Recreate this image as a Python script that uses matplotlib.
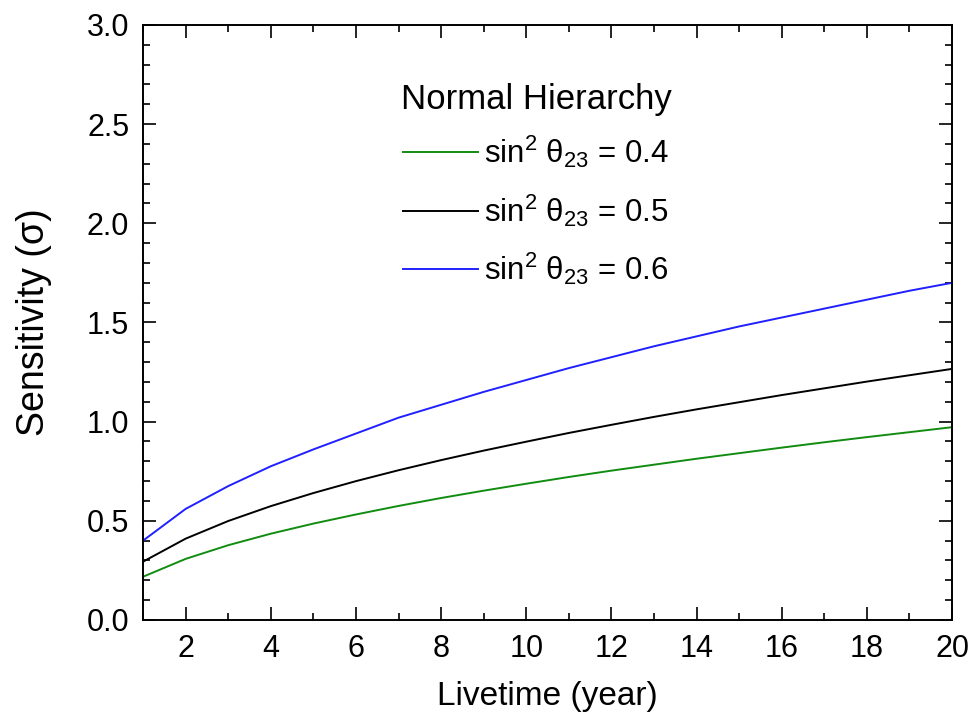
import numpy as np
import matplotlib
matplotlib.use('Agg')
import matplotlib.pyplot as plt
from matplotlib.ticker import MultipleLocator, FormatStrFormatter

plt.rcParams['font.family'] = ['Liberation Sans', 'DejaVu Sans']
plt.rcParams['mathtext.fontset'] = 'custom'
plt.rcParams['mathtext.rm'] = 'Liberation Sans'
plt.rcParams['mathtext.it'] = 'Liberation Sans:italic'

# Livetime in years
years = [1, 2, 3, 4, 5, 6, 7, 8, 9, 10, 11, 12, 13, 14, 15, 16, 17, 18, 19, 20]

# sensitivity (sigma), normal hierarchy
sens_04 = [0.218, 0.308, 0.377, 0.435, 0.486, 0.532, 0.575, 0.615, 0.652, 0.687,
           0.721, 0.753, 0.783, 0.813, 0.841, 0.869, 0.896, 0.922, 0.947, 0.972]
sens_05 = [0.294, 0.410, 0.499, 0.574, 0.640, 0.700, 0.755, 0.806, 0.854, 0.899,
           0.943, 0.984, 1.024, 1.062, 1.098, 1.134, 1.168, 1.202, 1.234, 1.266]
sens_06 = [0.400, 0.560, 0.675, 0.775, 0.860, 0.940, 1.020, 1.085, 1.150, 1.210,
           1.270, 1.325, 1.380, 1.430, 1.480, 1.525, 1.570, 1.615, 1.660, 1.700]

labels = [r'sin$^2$ θ$_{23}$ = 0.4', r'sin$^2$ θ$_{23}$ = 0.5', r'sin$^2$ θ$_{23}$ = 0.6']

fig = plt.figure(figsize=(9.69, 7.16), dpi=100)
ax = fig.add_axes([0.1476, 0.1341, 0.8349, 0.831])

ax.plot(years, sens_04, color='#118c11', lw=1.4, label=labels[0])
ax.plot(years, sens_05, color='black', lw=1.4, label=labels[1])
ax.plot(years, sens_06, color='#2020ff', lw=1.4, label=labels[2])

ax.set_xlim(1, 20)
ax.set_ylim(0, 3.0)
ax.xaxis.set_major_locator(MultipleLocator(2))
ax.xaxis.set_minor_locator(MultipleLocator(1))
ax.yaxis.set_major_locator(MultipleLocator(0.5))
ax.yaxis.set_minor_locator(MultipleLocator(0.1))
ax.yaxis.set_major_formatter(FormatStrFormatter('%.1f'))
ax.tick_params(which='both', direction='in', top=True, right=True, width=1.2, labelsize=22)
ax.tick_params(which='major', length=9.5, pad=10)
ax.tick_params(which='minor', length=5)
for s in ax.spines.values():
    s.set_linewidth(1.4)

ax.set_xlabel('Livetime (year)', fontsize=24, labelpad=12)
ax.set_ylabel('Sensitivity (σ)', fontsize=27, labelpad=25)

leg = ax.legend(title='Normal Hierarchy', frameon=False, loc='upper left',
                bbox_to_anchor=(0.284, 0.95), fontsize=22.5, title_fontsize=25,
                handlelength=2.4, handletextpad=0.2, labelspacing=0.7)
leg._legend_box.sep = 13

plt.savefig('out.png', dpi=100)
